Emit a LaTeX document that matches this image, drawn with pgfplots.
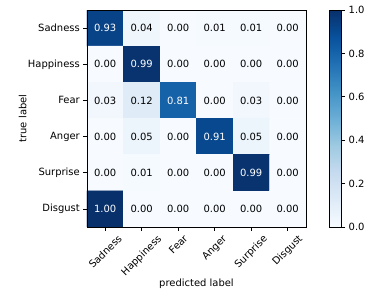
\documentclass[border=0pt]{standalone}
\usepackage{fontspec}
\setmainfont{DejaVu Sans}
\usepackage{graphicx}
\usepackage{pgfplots}
\usepackage{pgfplotstable}
\pgfplotsset{compat=1.18}

\pgfplotstableread{
x y c
0 0 0.93
1 0 0.04
2 0 0.00
3 0 0.01
4 0 0.01
5 0 0.00
0 1 0.00
1 1 0.99
2 1 0.00
3 1 0.00
4 1 0.00
5 1 0.00
0 2 0.03
1 2 0.12
2 2 0.81
3 2 0.00
4 2 0.03
5 2 0.00
0 3 0.00
1 3 0.05
2 3 0.00
3 3 0.91
4 3 0.05
5 3 0.00
0 4 0.00
1 4 0.01
2 4 0.00
3 4 0.00
4 4 0.99
5 4 0.00
0 5 1.00
1 5 0.00
2 5 0.00
3 5 0.00
4 5 0.00
5 5 0.00
}\cm

\pgfplotstableread{
x y l
1 0 0.04
2 0 0.00
3 0 0.01
4 0 0.01
5 0 0.00
0 1 0.00
2 1 0.00
3 1 0.00
4 1 0.00
5 1 0.00
0 2 0.03
1 2 0.12
3 2 0.00
4 2 0.03
5 2 0.00
0 3 0.00
1 3 0.05
2 3 0.00
4 3 0.05
5 3 0.00
0 4 0.00
1 4 0.01
2 4 0.00
3 4 0.00
5 4 0.00
1 5 0.00
2 5 0.00
3 5 0.00
4 5 0.00
5 5 0.00
}\darktext

\pgfplotstableread{
x y l
0 0 0.93
1 1 0.99
2 2 0.81
3 3 0.91
4 4 0.99
0 5 1.00
}\whitetext

\begin{document}
\begin{tikzpicture}
\path[use as bounding box] (-87bp,-72bp) rectangle ++(381bp,299bp);
\begin{axis}[
  at={(0bp,0bp)}, anchor=south west,
  width=219bp, height=217bp, scale only axis,
  font=\fontsize{10}{12}\selectfont,
  xmin=-0.5, xmax=5.5, ymin=-0.5, ymax=5.5, y dir=reverse,
  axis on top,
  xtick={0,1,2,3,4,5}, ytick={0,1,2,3,4,5},
  xticklabels={\rotatebox{45}{Sadness},\rotatebox{45}{Happiness},\rotatebox{45}{Fear},\rotatebox{45}{Anger},\rotatebox{45}{Surprise},\rotatebox{45}{Disgust}},
  yticklabels={Sadness,Happiness,Fear,Anger,Surprise,Disgust},
  xticklabel style={anchor=north, inner sep=0pt, yshift=-3.5bp},
  yticklabel style={inner sep=0pt, xshift=-3.5bp},
  tick pos=left, tick align=outside, major tick length=3.5bp,
  tick style={black, line width=0.8bp},
  axis line style={line width=0.8bp},
  xlabel={predicted label}, ylabel={true label},
  xlabel style={yshift=2bp},
  ylabel style={yshift=-2bp},
  colormap={blues}{rgb255=(247,251,255) rgb255=(222,235,247) rgb255=(198,219,239) rgb255=(158,202,225) rgb255=(107,174,214) rgb255=(66,146,198) rgb255=(33,113,181) rgb255=(8,81,156) rgb255=(8,48,107)},
  point meta min=0, point meta max=1,
  colorbar,
  colorbar style={
    at={(parent axis.north east)}, anchor=north west, xshift=15bp,
    width=12bp,
    ytick={0,0.2,0.4,0.6,0.8,1.0},
    yticklabel style={/pgf/number format/assume math mode=true, /pgf/number format/fixed, /pgf/number format/fixed zerofill, /pgf/number format/precision=1, inner sep=0pt, xshift=3.5bp, font=\fontsize{10}{12}\selectfont},
    tick align=outside, major tick length=3.5bp,
    ytick pos=right,
    tick style={black, line width=0.8bp},
    axis line style={line width=0.8bp},
  },
]
\addplot[matrix plot*, mesh/cols=6, point meta=explicit, draw=none] table[x=x, y=y, meta=c] {\cm};
\addplot[only marks, mark=*, mark size=0pt, mark options={draw=none, fill=none},
  point meta=explicit symbolic, nodes near coords,
  every node near coord/.style={anchor=center, black, font=\fontsize{10}{12}\selectfont}]
  table[x=x, y=y, meta=l] {\darktext};
\addplot[only marks, mark=*, mark size=0pt, mark options={draw=none, fill=none},
  point meta=explicit symbolic, nodes near coords,
  every node near coord/.style={anchor=center, white, font=\fontsize{10}{12}\selectfont}]
  table[x=x, y=y, meta=l] {\whitetext};
\end{axis}
\end{tikzpicture}
\end{document}
